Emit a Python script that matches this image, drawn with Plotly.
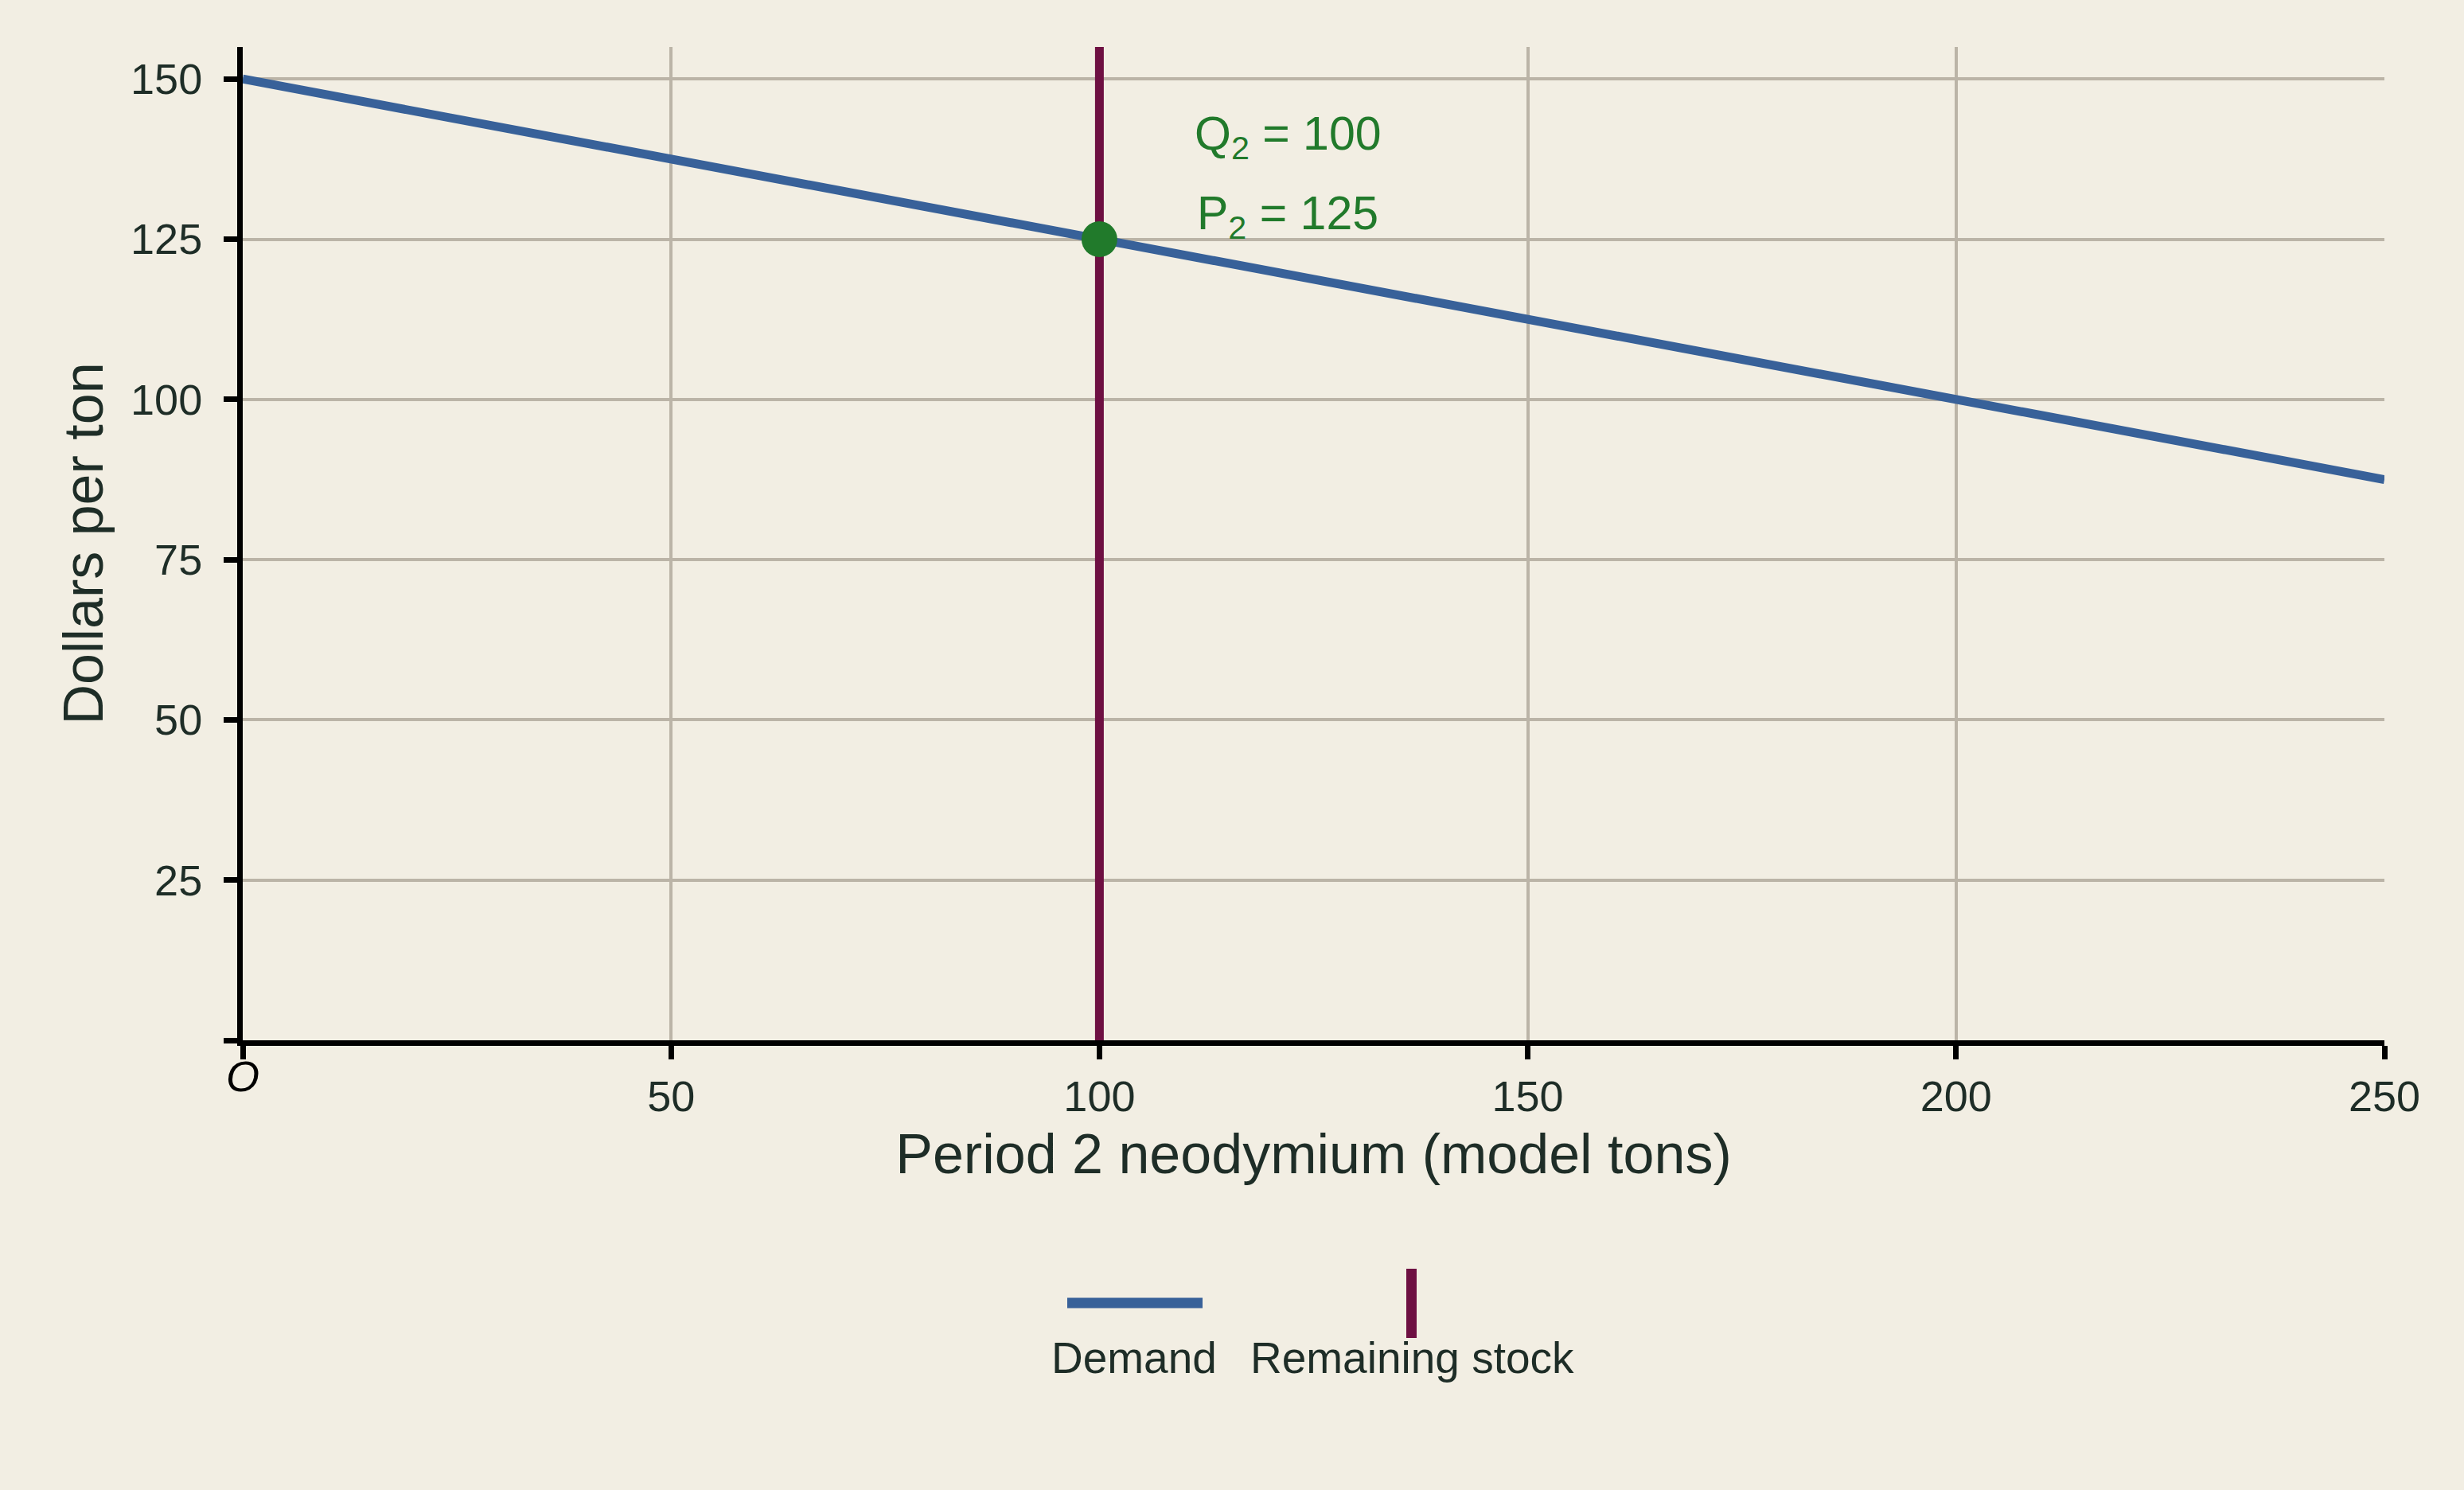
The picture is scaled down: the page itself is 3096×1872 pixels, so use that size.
import plotly.graph_objects as go

# ---- data ----
demand_q = [0, 250]
demand_p = [150, 87.5]
stock_q = [100, 100]
stock_p = [0, 155]
eq_q = [100]
eq_p = [125]

x_ticks = [50, 100, 150, 200, 250]
x_ticktext = ["50", "100", "150", "200", "250"]
y_ticks = [25, 50, 75, 100, 125, 150]
y_ticktext = ["25", "50", "75", "100", "125", "150"]
origin_tick = [0]

q_label = "Q<sub>2</sub> = 100"
p_label = "P<sub>2</sub> = 125"
legend_names = ["Demand", "Remaining stock"]

# ---- styles ----
BG = "#f2eee3"
GRID = "#bbb4a7"
BLUE = "#386199"
MAROON = "#6e1042"
GREEN = "#217a2b"
TEXT = "#1e2d27"
FONT = "Liberation Sans, Arial, sans-serif"

W, H = 3096, 1872
ML, MR, MT, MB = 305, 100, 59, 565
PW = W - ML - MR
PH = H - MT - MB


def px_to_paper_x(px):
    return (px - ML) / PW


def px_to_paper_y(py):
    return (H - MB - py) / PH


fig = go.Figure()
fig.add_trace(go.Scatter(x=demand_q, y=demand_p, mode="lines",
                         line=dict(color=BLUE, width=11),
                         name=legend_names[0], showlegend=False,
                         cliponaxis=False))
fig.add_trace(go.Scatter(x=stock_q, y=stock_p, mode="lines",
                         line=dict(color=MAROON, width=11),
                         name=legend_names[1], showlegend=False))
fig.add_trace(go.Scatter(x=eq_q, y=eq_p, mode="markers",
                         marker=dict(color=GREEN, size=45),
                         showlegend=False, cliponaxis=False))

annotations = [
    dict(x=122, y=140.95, xref="x", yref="y", text=q_label, showarrow=False,
         xanchor="center", yanchor="middle",
         font=dict(family=FONT, size=59, color=GREEN)),
    dict(x=122, y=128.55, xref="x", yref="y", text=p_label, showarrow=False,
         xanchor="center", yanchor="middle",
         font=dict(family=FONT, size=59, color=GREEN)),
    dict(x=0, y=px_to_paper_y(1352), xref="x", yref="paper", text="<i>O</i>",
         showarrow=False, xanchor="center", yanchor="middle",
         font=dict(family=FONT, size=54, color="#000000")),
    # legend texts
    dict(x=px_to_paper_x(1425), y=px_to_paper_y(1706), xref="paper", yref="paper",
         text=legend_names[0], showarrow=False, xanchor="center", yanchor="middle",
         font=dict(family=FONT, size=55, color=TEXT)),
    dict(x=px_to_paper_x(1774), y=px_to_paper_y(1706), xref="paper", yref="paper",
         text=legend_names[1], showarrow=False, xanchor="center", yanchor="middle",
         font=dict(family=FONT, size=55, color=TEXT)),
]

shapes = [
    dict(type="line", xref="paper", yref="paper",
         x0=px_to_paper_x(1341), x1=px_to_paper_x(1511),
         y0=px_to_paper_y(1637), y1=px_to_paper_y(1637),
         line=dict(color=BLUE, width=13)),
    dict(type="line", xref="paper", yref="paper",
         x0=px_to_paper_x(1773.5), x1=px_to_paper_x(1773.5),
         y0=px_to_paper_y(1594), y1=px_to_paper_y(1681),
         line=dict(color=MAROON, width=13)),
]

minor_ticks = dict(tickmode="array", tickvals=origin_tick, ticks="outside",
                   ticklen=17, tickwidth=7, tickcolor="#000000", showgrid=False)

fig.update_layout(
    width=W, height=H,
    paper_bgcolor=BG, plot_bgcolor=BG,
    margin=dict(l=ML, r=MR, t=MT, b=MB, autoexpand=False),
    font=dict(family=FONT, size=54, color=TEXT),
    showlegend=False,
    annotations=annotations,
    shapes=shapes,
    xaxis=dict(
        range=[0, 250], tickmode="array", tickvals=x_ticks, ticktext=x_ticktext,
        showgrid=True, gridcolor=GRID, gridwidth=4,
        zeroline=False, showline=True, linecolor="#000000", linewidth=7,
        ticks="outside", ticklen=17, tickwidth=7, tickcolor="#000000",
        ticklabelstandoff=0,
        minor=minor_ticks,
        tickfont=dict(family=FONT, size=54, color=TEXT),
        title=dict(text="Period 2 neodymium (model tons)", standoff=22,
                   font=dict(family=FONT, size=70, color=TEXT)),
        automargin=False,
    ),
    yaxis=dict(
        range=[0, 155], tickmode="array", tickvals=y_ticks, ticktext=y_ticktext,
        showgrid=True, gridcolor=GRID, gridwidth=4,
        zeroline=False, showline=True, linecolor="#000000", linewidth=7,
        ticks="outside", ticklen=17, tickwidth=7, tickcolor="#000000",
        ticklabelstandoff=16,
        minor=minor_ticks,
        tickfont=dict(family=FONT, size=54, color=TEXT),
        title=dict(text="Dollars per ton", standoff=14,
                   font=dict(family=FONT, size=70, color=TEXT)),
        automargin=False,
    ),
)

fig.write_html(
    "out.html",
    config={"displayModeBar": False},
    post_script="document.body.style.margin='0px';document.body.style.background='%s';" % BG,
)
